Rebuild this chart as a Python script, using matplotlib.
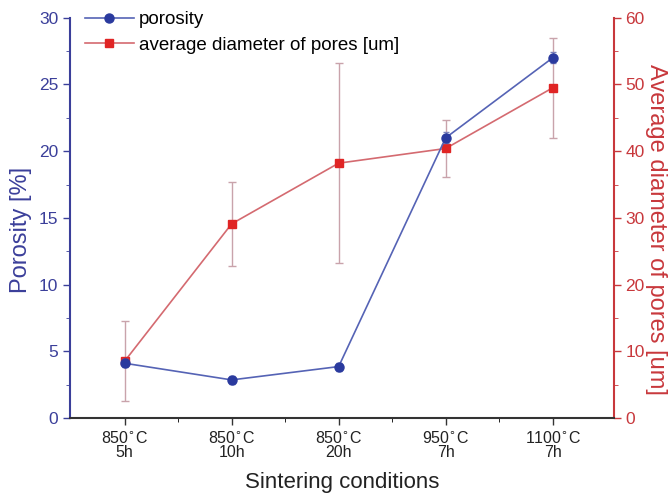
import numpy as np
import matplotlib.pyplot as plt
from matplotlib.lines import Line2D

plt.rcParams['font.family'] = ['Liberation Sans', 'DejaVu Sans']

# sintering conditions and measured values
conditions = ["850$^{\\circ}$C\n5h", "850$^{\\circ}$C\n10h", "850$^{\\circ}$C\n20h",
              "950$^{\\circ}$C\n7h", "1100$^{\\circ}$C\n7h"]
porosity = [4.1, 2.85, 3.85, 21.0, 27.0]
porosity_err = [0.3, 0.3, 0.3, 0.4, 0.4]
diameter = [8.5, 29.1, 38.2, 40.4, 49.5]
diameter_err = [6.0, 6.3, 15.0, 4.2, 7.5]

blue = '#3b3f9a'
red = '#c8383c'

x = np.arange(1, len(conditions) + 1)

fig = plt.figure(figsize=(6.7, 4.94), dpi=100)
ax1 = fig.add_axes([0.1045, 0.154, 0.8115, 0.81])
ax2 = ax1.twinx()

# diameter of pores (right axis)
ax2.errorbar(x, diameter, yerr=diameter_err, color='#d46a70', lw=1.2,
             marker='s', ms=6, mfc='#e02424', mec='#e02424',
             ecolor='#c9a3ab', elinewidth=1, capsize=3, capthick=1)

# porosity (left axis), drawn above the diameter series
ax1.errorbar(x, porosity, yerr=porosity_err, color='#5563b5', lw=1.2,
             marker='o', ms=6.5, mfc='#2a3a9e', mec='#2a3a9e',
             ecolor='#7a80b8', elinewidth=1, capsize=2)
ax1.set_zorder(ax2.get_zorder() + 1)
ax1.patch.set_visible(False)

ax1.set_xlim(0.49, 5.57)
ax1.set_ylim(0, 30)
ax2.set_ylim(0, 60)

ax1.set_xticks(x)
ax1.set_xticklabels(conditions, fontsize=11.5, linespacing=0.85)
ax1.set_xticks(x[:-1] + 0.5, minor=True)
ax1.set_yticks(np.arange(0, 31, 5))
ax1.set_yticks(np.arange(2.5, 30, 5), minor=True)
ax2.set_yticks(np.arange(0, 61, 10))
ax2.set_yticks(np.arange(5, 60, 10), minor=True)

ax1.tick_params(axis='y', colors=blue, labelsize=12.5, length=5, width=1)
ax1.tick_params(axis='y', which='minor', colors=blue, length=3)
ax1.tick_params(axis='x', colors='#333333', labelcolor='#222222', length=5, width=1, pad=4)
ax1.tick_params(axis='x', which='minor', length=3)
ax2.tick_params(axis='y', colors=red, labelsize=12.5, length=5, width=1)
ax2.tick_params(axis='y', which='minor', colors=red, length=3)

for ax in (ax1, ax2):
    ax.spines['top'].set_visible(False)
ax1.spines['left'].set_color(blue)
ax1.spines['left'].set_linewidth(1.5)
ax1.spines['right'].set_visible(False)
ax2.spines['left'].set_visible(False)
ax2.spines['bottom'].set_visible(False)
ax2.spines['right'].set_color(red)
ax2.spines['right'].set_linewidth(1.5)
ax1.spines['bottom'].set_color('#333333')
ax1.spines['bottom'].set_linewidth(1.5)

ax1.set_ylabel('Porosity [%]', color=blue, fontsize=17, labelpad=5)
ax2.set_ylabel('Average diameter of pores [um]', color=red, fontsize=17,
               rotation=-90, labelpad=16)
ax1.yaxis.label.set_y(0.47)
ax2.yaxis.label.set_y(0.47)
ax1.set_xlabel('Sintering conditions', fontsize=16, color='#222222', labelpad=9)

handles = [
    Line2D([], [], color='#5563b5', lw=1.2, marker='o', ms=6.5,
           mfc='#2a3a9e', mec='#2a3a9e'),
    Line2D([], [], color='#d46a70', lw=1.2, marker='s', ms=6,
           mfc='#e02424', mec='#e02424'),
]
ax1.legend(handles, ['porosity', 'average diameter of pores [um]'],
           loc='upper left', frameon=False, fontsize=13.5,
           handlelength=2.6, handletextpad=0.3, borderaxespad=0.1,
           labelspacing=0.45, bbox_to_anchor=(0.01, 1.04))

fig.savefig('out.png', dpi=100)
